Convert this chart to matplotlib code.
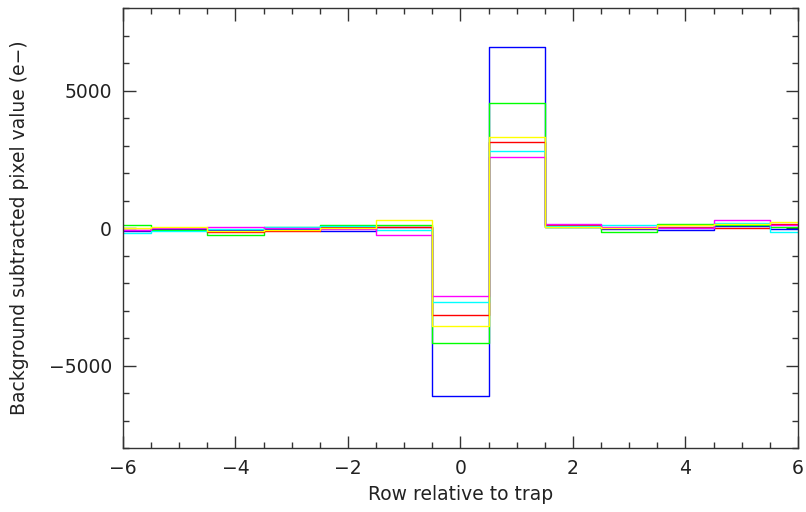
import matplotlib
matplotlib.use("Agg")
import matplotlib.pyplot as plt
from matplotlib.ticker import MultipleLocator

rows = list(range(-6, 7))

blue = [-121, -36, -85, -24, -121, 49, -6110, 6580, 30, -49, -61, 73, -49]
green = [121, -73, -243, 49, 121, 100, -4180, 4545, 49, -146, 146, 100, 49]
red = [-80, -12, -140, -97, 36, 30, -3160, 3130, 100, -12, 49, -12, 146]
yellow = [10, 49, -121, -60, 0, 279, -3560, 3310, 49, 0, 97, 146, 218]
cyan = [-170, -97, -49, 36, 80, -85, -2690, 2800, 70, 121, 20, 194, -158]
magenta = [-61, 12, 36, 0, -30, -243, -2470, 2580, 146, 24, 12, 279, 97]

series = [(blue, "#0000ff"), (green, "#00ff00"), (red, "#ff0000"),
          (cyan, "#00ffff"), (magenta, "#ff00ff"), (yellow, "#ffff00")]

plt.rcParams['font.family'] = ['DejaVu Sans']

fig = plt.figure(figsize=(8.06, 5.12), dpi=100)
ax = fig.add_axes([0.1526, 0.125, 0.8374, 0.859])

for vals, col in series:
    ax.step(rows, vals, where='mid', color=col, lw=1.0)

ax.set_xlim(-6, 6)
ax.set_ylim(-8000, 8000)
ax.xaxis.set_major_locator(MultipleLocator(2))
ax.xaxis.set_minor_locator(MultipleLocator(0.5))
ax.yaxis.set_major_locator(MultipleLocator(5000))
ax.yaxis.set_minor_locator(MultipleLocator(1000))
ax.tick_params(which='both', direction='in', top=True, right=True, labelsize=13.5,
               width=1, color='#333333', labelcolor='#222222')
ax.tick_params(which='major', length=9, pad=8)
ax.tick_params(which='minor', length=4)
for s in ax.spines.values():
    s.set_linewidth(1.0)
    s.set_color('#333333')

ax.set_xlabel("Row relative to trap", fontsize=13.5, labelpad=5, color='#222222')
ax.set_ylabel("Background subtracted pixel value (e\u2212)", fontsize=13.5, labelpad=14,
              color='#222222')

fig.savefig("out.png", dpi=100)
